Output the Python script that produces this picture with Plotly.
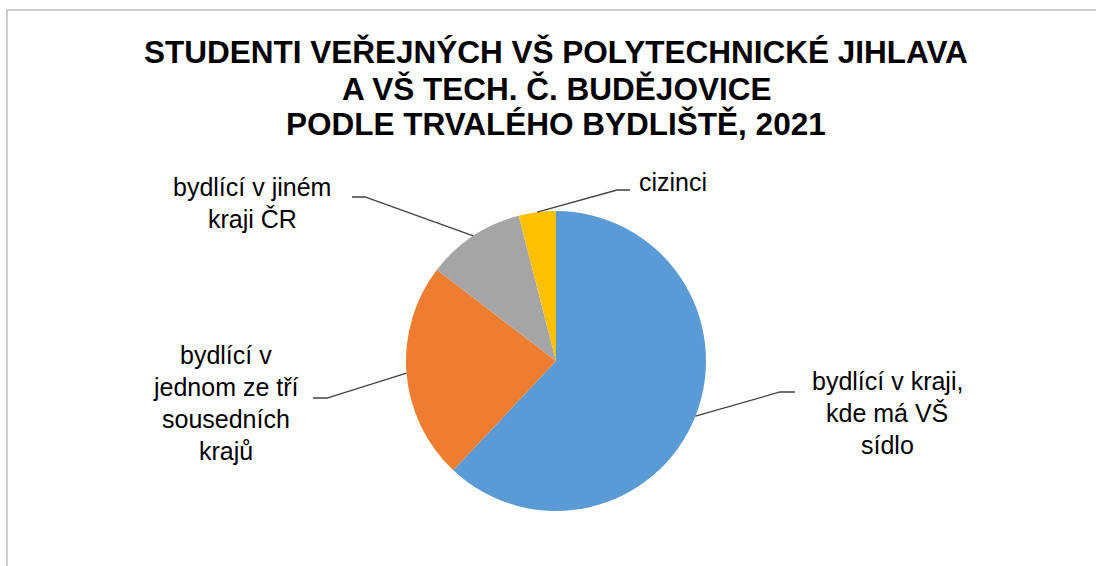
import math
import plotly.graph_objects as go

# ---- data ----
categories = [
    "bydlící v kraji,<br>kde má VŠ<br>sídlo",
    "bydlící v<br>jednom ze tří<br>sousedních<br>krajů",
    "bydlící v jiném<br>kraji ČR",
    "cizinci",
]
values = [62.0, 23.4, 10.6, 4.0]
colors = ["#5B9BD5", "#ED7D31", "#A5A5A5", "#FFC000"]
title_lines = [
    "STUDENTI VEŘEJNÝCH VŠ POLYTECHNICKÉ JIHLAVA",
    "A VŠ TECH. Č. BUDĚJOVICE",
    "PODLE TRVALÉHO BYDLIŠTĚ, 2021",
]

# ---- layout constants (pixels) ----
W, H = 1096, 566
CX, CY, R = 556, 361, 150
FONT = "Liberation Sans, Arial, sans-serif"
# label centre x, centre y of first line (px); line step
label_pos = [(887, 381), (226, 355), (252, 187), (673, 182)]
LABEL_STEP = 32
# elbow point (px), end of horizontal leg (px)
elbows = [((780, 392), (795, 392)),
          ((327, 398), (313, 398)),
          ((365, 197), (352, 197)),
          ((617, 190), (630, 190))]
title_y = [52, 89, 124]

def px(x):
    return x / W

def py(y):
    return 1 - y / H

fig = go.Figure()
fig.add_trace(go.Pie(
    labels=[c.replace("<br>", " ") for c in categories],
    values=values,
    marker=dict(colors=colors, line=dict(width=0)),
    sort=False,
    direction="clockwise",
    rotation=0,
    textinfo="none",
    hoverinfo="label+value",
    showlegend=False,
    domain=dict(x=[px(CX - R), px(CX + R)], y=[py(CY + R), py(CY - R)]),
))

shapes = [dict(type="rect", xref="paper", yref="paper",
               x0=px(7), x1=px(W + 10), y0=py(H + 10), y1=py(10),
               line=dict(color="#BFBFBF", width=1.5), fillcolor="rgba(0,0,0,0)")]
annotations = []
total = sum(values)
cum = 0.0
for i, v in enumerate(values):
    mid = (cum + v / 2) / total * 2 * math.pi
    cum += v
    sx = CX + R * math.sin(mid)
    sy = CY - R * math.cos(mid)
    (ex, ey), (hx, hy) = elbows[i]
    path = f"M {px(sx)},{py(sy)} L {px(ex)},{py(ey)} L {px(hx)},{py(hy)}"
    shapes.append(dict(type="path", xref="paper", yref="paper", path=path,
                       line=dict(color="#404040", width=1.3)))
    lx, ly = label_pos[i]
    for j, line in enumerate(categories[i].split("<br>")):
        annotations.append(dict(
            x=px(lx), y=py(ly + j * LABEL_STEP), xref="paper", yref="paper",
            text=line, showarrow=False, align="center",
            xanchor="center", yanchor="middle",
            font=dict(family=FONT, size=25, color="#000000"),
        ))

for j, line in enumerate(title_lines):
    annotations.append(dict(
        x=px(CX), y=py(title_y[j]), xref="paper", yref="paper",
        text="<b>" + line + "</b>",
        showarrow=False, align="center", xanchor="center", yanchor="middle",
        font=dict(family=FONT, size=31.5, color="#000000"),
    ))

fig.update_layout(
    width=W, height=H,
    margin=dict(l=0, r=0, t=0, b=0),
    paper_bgcolor="white", plot_bgcolor="white",
    shapes=shapes, annotations=annotations,
)

fig.write_html("out.html", config={"displayModeBar": False},
               post_script="document.body.style.margin='0';document.body.style.padding='0';")
